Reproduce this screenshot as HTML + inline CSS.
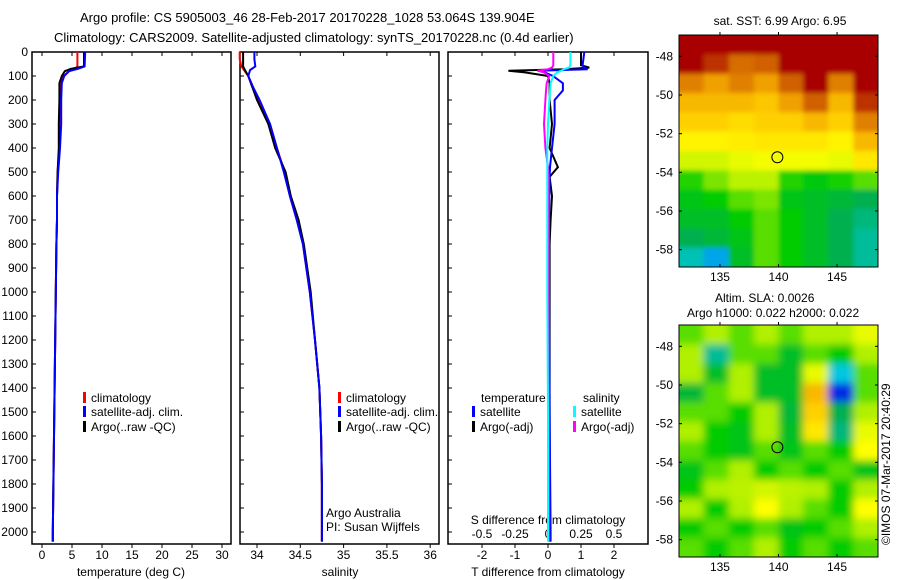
<!DOCTYPE html>
<html><head><meta charset="utf-8">
<style>
html,body{margin:0;padding:0;background:#fff;}
svg{display:block;font-family:"Liberation Sans",sans-serif;}
text{font-size:12px;fill:#000;}
</style></head>
<body>
<svg id="c" width="900" height="580" viewBox="0 0 900 580" xmlns="http://www.w3.org/2000/svg">
<text x="80" y="22" style="font-size:13px">Argo profile: CS 5905003_46 28-Feb-2017 20170228_1028 53.064S 139.904E</text>
<text x="54" y="42" style="font-size:13px">Climatology: CARS2009. Satellite-adjusted climatology: synTS_20170228.nc (0.4d earlier)</text>
<text x="780" y="25" text-anchor="middle">sat. SST: 6.99 Argo: 6.95</text>
<text x="715" y="302">Altim. SLA: 0.0026</text>
<text x="687" y="317">Argo h1000: 0.022 h2000: 0.022</text>
<text transform="translate(890,545) rotate(-90)">©IMOS 07-Mar-2017 20:40:29</text>
<text x="326" y="517">Argo Australia</text>
<text x="326" y="531">PI: Susan Wijffels</text>
</svg>
<script>
// ---- depth profile data ----
const depthT = [0,60,70,80,100,130,200,300,400,500,600,700,800,1000,1200,1400,1600,1800,2000,2040];
const climT = [5.9,5.9,5.5,4.5,3.6,3.0,3.0,2.9,2.9,2.6,2.5,2.5,2.4,2.3,2.2,2.1,2.0,1.9,1.8,1.8];
const satT  = [7.2,7.1,6.0,4.5,3.7,3.3,3.2,3.2,3.0,2.7,2.5,2.5,2.4,2.3,2.2,2.1,2.0,1.9,1.8,1.8];
const argoT = [7.0,7.0,4.8,3.8,3.3,2.9,2.9,2.8,2.8,2.6,2.5,2.5,2.4,2.3,2.2,2.1,2.0,1.9,1.8,1.8];
const depthS = [0,30,60,75,100,150,200,300,400,500,600,700,800,1000,1200,1400,1600,1800,2000,2040];
const climS = [33.8,33.8,33.82,33.85,33.9,33.95,34.02,34.15,34.23,34.32,34.38,34.46,34.53,34.61,34.67,34.72,34.74,34.75,34.75,34.75];
const satS  = [33.97,33.97,33.98,33.92,33.9,33.96,34.03,34.15,34.23,34.31,34.38,34.46,34.53,34.61,34.67,34.72,34.74,34.75,34.75,34.75];
const argoS = [33.84,33.84,33.84,33.86,33.9,33.95,34.0,34.13,34.21,34.33,34.39,34.48,34.54,34.62,34.67,34.72,34.74,34.75,34.75,34.75];
const depthD = [0,55,65,72,78,85,100,130,160,200,300,400,480,520,600,700,800,1000,1500,2000,2040];
const satDT  = [1.1,1.05,1.1,1.2,-0.3,-0.1,0.15,0.45,0.45,0.2,0.2,0.12,0.06,0.05,0.04,0.03,0.03,0.03,0.05,0.08,0.08];
const argoDT = [1.0,1.0,1.25,0.5,-1.2,-0.7,0.0,0.05,0.05,0.05,0.12,0.05,0.3,0.05,0.12,0.08,0.05,0.05,0.05,0.05,0.05];
const satDS  = [0.17,0.17,0.16,0.12,0.1,0.07,0.04,0.02,0.015,0.01,0.0,-0.005,-0.005,-0.005,-0.005,-0.005,-0.005,-0.005,0,0,0];
const argoDS = [0.04,0.04,0.03,0.0,-0.08,-0.03,0.01,-0.01,-0.015,-0.02,-0.03,-0.02,0.0,0.005,0.005,0.005,0.005,0.005,0.005,0.005,0.005];
const depthTicks = [0,100,200,300,400,500,600,700,800,900,1000,1100,1200,1300,1400,1500,1600,1700,1800,1900,2000];
const tempTicks = [0,5,10,15,20,25,30];
const salTicks = [34,34.5,35,35.5,36];
const salTickLabels = ["34","34.5","35","35.5","36"];
const dtTicks = [-2,-1,0,1,2];
const dsTicks = [-0.5,-0.25,0,0.25,0.5];
const dsTickLabels = ["-0.5","-0.25","0","0.25","0.5"];
// ---- map data (colour index 0..1) ----
const mapLats = [-47,-48,-49,-50,-51,-52,-53,-54,-55,-56,-57,-58];
const mapLonEdges = [131.5,133.6,135.75,137.9,140,142.1,144.25,146.4,148.5];
const sstRows = [
[1,1,1,1,1,1,1,1],
[1,0.95,0.88,0.9,1,1,1,1],
[0.85,0.8,0.85,0.8,0.9,1,0.85,1],
[0.75,0.75,0.75,0.72,0.8,0.9,0.75,0.95],
[0.7,0.7,0.68,0.7,0.7,0.75,0.7,0.85],
[0.64,0.64,0.65,0.66,0.66,0.66,0.64,0.75],
[0.58,0.58,0.6,0.61,0.61,0.61,0.6,0.66],
[0.47,0.52,0.56,0.56,0.47,0.44,0.46,0.5],
[0.42,0.45,0.5,0.52,0.42,0.4,0.38,0.35],
[0.4,0.4,0.45,0.5,0.45,0.4,0.35,0.32],
[0.35,0.38,0.42,0.5,0.45,0.4,0.35,0.3],
[0.28,0.22,0.4,0.5,0.45,0.4,0.35,0.3]];
const slaRows = [
[0.5,0.55,0.5,0.55,0.5,0.55,0.55,0.6],
[0.55,0.3,0.5,0.5,0.4,0.5,0.45,0.55],
[0.55,0.4,0.55,0.4,0.4,0.6,0.25,0.5],
[0.38,0.5,0.55,0.4,0.4,0.75,0.08,0.5],
[0.5,0.5,0.45,0.55,0.38,0.7,0.35,0.55],
[0.55,0.45,0.42,0.55,0.4,0.66,0.32,0.6],
[0.5,0.45,0.42,0.5,0.42,0.5,0.45,0.62],
[0.42,0.5,0.55,0.45,0.5,0.45,0.5,0.42],
[0.45,0.55,0.56,0.58,0.56,0.55,0.45,0.55],
[0.55,0.45,0.55,0.62,0.55,0.5,0.45,0.62],
[0.45,0.5,0.45,0.5,0.42,0.45,0.5,0.55],
[0.5,0.45,0.5,0.55,0.45,0.5,0.45,0.5]];
const mapLatTicks = [-48,-50,-52,-54,-56,-58];
const mapLonTicks = [135,140,145];
const argoLon = 139.904, argoLat = -53.064;

const NS='http://www.w3.org/2000/svg';
const svg=document.getElementById('c');
function el(tag,attrs,parent){const e=document.createElementNS(NS,tag);for(const k in attrs)e.setAttribute(k,attrs[k]);(parent||svg).appendChild(e);return e;}
function txt(x,y,s,anchor,parent){const t=el('text',{x:x,y:y,'text-anchor':anchor||'start'},parent);t.textContent=s;return t;}

const topY=52, pxPer100=24, botY=544;
const yD=d=>topY+d*pxPer100/100;
const panels=[
 {x0:32,x1:231,f:v=>42+v*6,name:'temperature'},
 {x0:240,x1:439,f:v=>257+(v-34)*86.6,name:'salinity'},
 {x0:448,x1:648,f:v=>548+v*33,name:'difference'}];
const fS=v=>548+v*132;

panels.forEach((p,i)=>{
 const r=el('rect',{x:p.x0,y:topY,width:p.x1-p.x0,height:botY-topY,fill:'none',stroke:'#000','stroke-width':1.5});
 
 
 depthTicks.forEach(d=>{el('line',{x1:p.x0,x2:p.x0+4,y1:yD(d),y2:yD(d),stroke:'#000'});});
});
depthTicks.forEach(d=>{const t=txt(28,yD(d)+4,String(d),'end');
 
 });

function xticks(p,ticks,labels,f,yl){
 ticks.forEach((v,k)=>{const x=f(v);
  el('line',{x1:x,x2:x,y1:topY,y2:topY+4,stroke:'#000'});
  el('line',{x1:x,x2:x,y1:botY,y2:botY+4,stroke:'#000'});
  const t=txt(x,yl,labels[k],'middle');
  
  });
}
xticks(panels[0],tempTicks,tempTicks.map(String),panels[0].f,559);
xticks(panels[1],salTicks,salTickLabels,panels[1].f,559);
xticks(panels[2],dtTicks,dtTicks.map(String),panels[2].f,559);
dsTicks.forEach((v,k)=>{const t=txt(fS(v),538,dsTickLabels[k],'middle');
 
 });
[['temperature (deg C)',131],['salinity',340],['T difference from climatology',548]].forEach(a=>{
 const t=txt(a[1],576,a[0],'middle');
 
 });
{const t=txt(548,524,'S difference from climatology','middle');
 
 }

function line(depths,vals,f,color,name){
 const pts=depths.map((d,k)=>f(vals[k]).toFixed(1)+','+yD(d).toFixed(1)).join(' ');
 const l=el('polyline',{points:pts,fill:'none',stroke:color,'stroke-width':2});
 
 
}
line(depthT,climT,panels[0].f,'#f00','temp-climatology-line');
line(depthT,argoT,panels[0].f,'#000','temp-argo-line');
line(depthT,satT,panels[0].f,'#00f','temp-satellite-line');
line(depthS,climS,panels[1].f,'#f00','sal-climatology-line');
line(depthS,argoS,panels[1].f,'#000','sal-argo-line');
line(depthS,satS,panels[1].f,'#00f','sal-satellite-line');
line(depthD,argoDT,panels[2].f,'#000','tdiff-argo-line');
line(depthD,satDT,panels[2].f,'#00f','tdiff-satellite-line');
line(depthD,argoDS,fS,'#f0f','sdiff-argo-line');
line(depthD,satDS,fS,'#0ff','sdiff-satellite-line');

function legendItem(x,y,color,label){
 el('rect',{x:x,y:y-10,width:3,height:11,fill:color});
 const t=txt(x+8,y,label);
 
 
}
[83,338].forEach(x=>{
 legendItem(x,402,'#f00','climatology');
 legendItem(x,416,'#00f','satellite-adj. clim.');
 legendItem(x,431,'#000','Argo(..raw -QC)');
});
{const t=txt(481,402,'temperature');}
{const t=txt(583,402,'salinity');}
legendItem(472,416,'#00f','satellite');
legendItem(472,431,'#000','Argo(-adj)');
legendItem(573,416,'#0ff','satellite');
legendItem(573,431,'#f0f','Argo(-adj)');

// ---- maps ----
const stops=[[0,[0,0,200]],[0.15,[0,80,255]],[0.25,[0,200,224]],[0.35,[0,176,80]],[0.45,[0,204,0]],[0.55,[176,240,0]],[0.62,[255,255,0]],[0.7,[255,208,0]],[0.8,[240,160,0]],[0.9,[208,96,0]],[1,[168,0,0]]];
function cmap(v){for(let i=1;i<stops.length;i++){if(v<=stops[i][0]){const a=stops[i-1],b=stops[i];const t=(v-a[0])/(b[0]-a[0]);
 const c=a[1].map((x,k)=>Math.round(x+(b[1][k]-x)*t));return 'rgb('+c.join(',')+')';}}return 'rgb(168,0,0)';}
const defs=el('defs',{});
const flt=el('filter',{id:'bl',x:'-0.1',y:'-0.1',width:'1.2',height:'1.2'},defs);
el('feGaussianBlur',{stdDeviation:'4'},flt);
const flt2=el('filter',{id:'bl2',x:'-0.1',y:'-0.1',width:'1.2',height:'1.2'},defs);
el('feGaussianBlur',{stdDeviation:'2.5'},flt2);
function drawMap(y0,y1,rows,name,blurId){
 const x0=679,x1=878;
 const pad=12;
 const lonX=lon=>x0+(lon-131.5)*(x1-x0)/17;
 const latY=lat=>y0+(-47-lat)*(y1-y0)/12;
 const cp=el('clipPath',{id:'cp'+name},defs);
 el('rect',{x:x0,y:y0,width:x1-x0,height:y1-y0},cp);
 const g=el('g',{'clip-path':'url(#cp'+name+')'});
 const gi=el('g',{filter:'url(#'+blurId+')'},g);
 const nr=rows.length, nc=rows[0].length;
 rows.forEach((row,r)=>row.forEach((v,c)=>{
  let xa=lonX(mapLonEdges[c]),xb=lonX(mapLonEdges[c+1]);
  let ya=latY(mapLats[r]),yb=latY(mapLats[r]-1);
  if(c===0)xa-=pad; if(c===nc-1)xb+=pad; if(r===0)ya-=pad; if(r===nr-1)yb+=pad;
  const cell=el('rect',{x:xa,y:ya,width:xb-xa+0.6,height:yb-ya+0.6,fill:cmap(v)},gi);
  
  
 }));
 const fr=el('rect',{x:x0,y:y0,width:x1-x0,height:y1-y0,fill:'none',stroke:'#000','stroke-width':1});
 
 
 const ci=el('circle',{cx:lonX(argoLon),cy:latY(argoLat)+5,r:5.5,fill:'none',stroke:'#000'});
 
 
 mapLatTicks.forEach(l=>{const y=latY(l)+2;
  el('line',{x1:x0,x2:x0+3,y1:y,y2:y,stroke:'#000'});
  el('line',{x1:x1-3,x2:x1,y1:y,y2:y,stroke:'#000'});
  const t=txt(673,y+4,String(l),'end');
  
  });
 mapLonTicks.forEach(l=>{const x=lonX(l);
  el('line',{x1:x,x2:x,y1:y0,y2:y0-3,stroke:'#000'});
  el('line',{x1:x,x2:x,y1:y1,y2:y1-3,stroke:'#000'});
  const t=txt(x,y1+14,String(l),'middle');
  
  });
}
drawMap(35,267,sstRows,'sst','bl2');
drawMap(325,557,slaRows,'sla','bl');
</script>
</body></html>
